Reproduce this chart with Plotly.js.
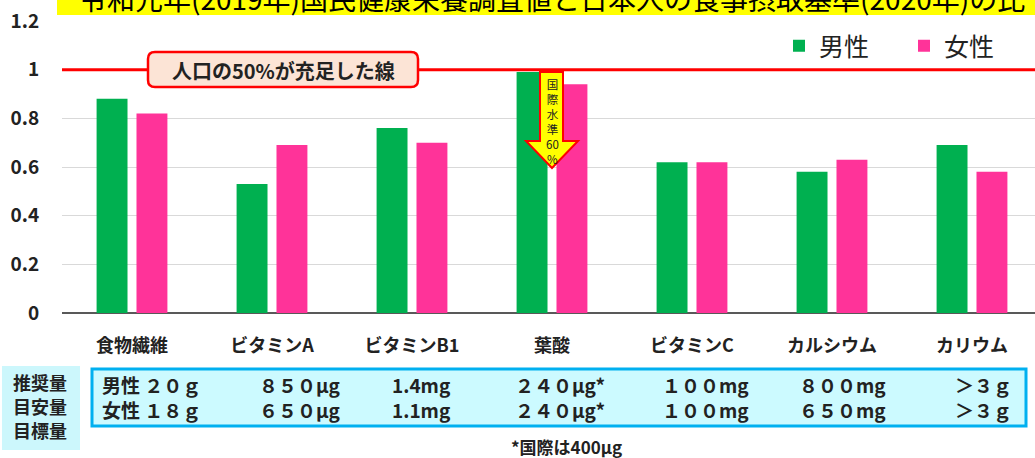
<!DOCTYPE html>
<html><head><meta charset="utf-8">
<script src="https://cdn.plot.ly/plotly-3.0.1.min.js"></script>
<style>html,body{margin:0;padding:0;background:#fff;}#chart{width:1035px;height:458px;}</style>
</head><body><div id="chart"></div>
<script>
const categories = ['食物繊維','ビタミンA','ビタミンB1','葉酸','ビタミンC','カルシウム','カリウム'];
const maleValues = [0.88, 0.53, 0.76, 0.99, 0.62, 0.58, 0.69];
const femaleValues = [0.82, 0.69, 0.70, 0.94, 0.62, 0.63, 0.58];
const yTicks = [0, 0.2, 0.4, 0.6, 0.8, 1, 1.2];
const maleIntake = ['男性 ２０ｇ','８５０μg','1.4mg','２４０μg*','１００mg','８００mg','＞３ｇ'];
const femaleIntake = ['女性 １８ｇ','６５０μg','1.1mg','２４０μg*','１００mg','６５０mg','＞３ｇ'];
const rowLabels = ['推奨量','目安量','目標量'];
const titleText = '令和元年(2019年)国民健康栄養調査値と日本人の食事摂取基準(2020年)の比';

const W = 1035, H = 458, L = 62, T = 21, B = 145;
const PW = W - L, PH = H - T - B;
const px = x => (x - L) / PW;
const py = y => (H - B - y) / PH;
const FONT = '"Noto Sans CJK JP", "Noto Sans", sans-serif';

function roundRect(x0, y0, x1, y1, r) {
  const X = v => px(v).toFixed(5), Y = v => py(v).toFixed(5);
  return `M${X(x0+r)},${Y(y0)} L${X(x1-r)},${Y(y0)} Q${X(x1)},${Y(y0)} ${X(x1)},${Y(y0+r)} L${X(x1)},${Y(y1-r)} Q${X(x1)},${Y(y1)} ${X(x1-r)},${Y(y1)} L${X(x0+r)},${Y(y1)} Q${X(x0)},${Y(y1)} ${X(x0)},${Y(y1-r)} L${X(x0)},${Y(y0+r)} Q${X(x0)},${Y(y0)} ${X(x0+r)},${Y(y0)} Z`;
}
function poly(pts) {
  return 'M' + pts.map(p => px(p[0]).toFixed(5) + ',' + py(p[1]).toFixed(5)).join(' L') + ' Z';
}

const traces = [
  {type:'bar', name:'男性', x:categories, y:maleValues, marker:{color:'#00B050'}},
  {type:'bar', name:'女性', x:categories, y:femaleValues, marker:{color:'#FF3399'}}
];

const shapes = [
  {type:'rect', xref:'paper', yref:'paper', x0:px(57), x1:px(1040), y0:py(15), y1:py(-10), fillcolor:'#FFFF00', line:{width:0}, layer:'below'},
  {type:'line', xref:'paper', yref:'y', x0:0, x1:1, y0:1, y1:1, line:{color:'#FF0000', width:3}},
  {type:'path', xref:'paper', yref:'paper', path:roundRect(148, 52, 418, 87, 7), fillcolor:'#FCE4D6', line:{color:'#FF0000', width:2.5}},
  {type:'path', xref:'paper', yref:'paper', path:poly([[540,72],[563,72],[563,141],[578,141],[552,168],[526,141],[540,141]]), fillcolor:'#FFFF00', line:{color:'#FF0000', width:2}},
  {type:'rect', xref:'paper', yref:'paper', x0:px(2), x1:px(80), y0:py(366), y1:py(450), fillcolor:'#CCF7FC', line:{width:0}},
  {type:'rect', xref:'paper', yref:'paper', x0:px(92), x1:px(1026), y0:py(369), y1:py(426), fillcolor:'#CCFAFF', line:{color:'#00B0F0', width:3}}
];

const annotations = [
  {xref:'paper', yref:'paper', x:px(552), y:py(-2), text:titleText, showarrow:false, xanchor:'center', yanchor:'middle', font:{family:FONT, size:28, color:'#000'}},
  {xref:'paper', yref:'paper', x:px(283), y:py(70), text:'<b>人口の50%が充足した線</b>', showarrow:false, xanchor:'center', yanchor:'middle', font:{family:FONT, size:20, color:'#222'}},
  {xref:'paper', yref:'paper', x:px(552), y:py(74), text:'国<br>際<br>水<br>準<br>60<br>%', showarrow:false, xanchor:'center', yanchor:'top', align:'center', font:{family:FONT, size:11.5, color:'#222'}},
  {xref:'paper', yref:'paper', x:px(566), y:py(446), text:'<b>*国際は400μg</b>', showarrow:false, xanchor:'center', yanchor:'middle', font:{family:FONT, size:17, color:'#222'}}
];
const rowY = [382, 406, 430];
rowLabels.forEach((t, i) => annotations.push({xref:'paper', yref:'paper', x:px(40), y:py(rowY[i]), text:'<b>'+t+'</b>', showarrow:false, xanchor:'center', yanchor:'middle', borderpad:0, font:{family:FONT, size:18, color:'#222'}}));
const colX = [100, 257, 390, 513, 660, 797, 953];
maleIntake.forEach((t, i) => annotations.push({xref:'paper', yref:'paper', x:px(colX[i]), y:py(384), text:'<b>'+t+'</b>', showarrow:false, xanchor:'left', yanchor:'middle', font:{family:FONT, size:19, color:'#222'}}));
femaleIntake.forEach((t, i) => annotations.push({xref:'paper', yref:'paper', x:px(colX[i]), y:py(409), text:'<b>'+t+'</b>', showarrow:false, xanchor:'left', yanchor:'middle', font:{family:FONT, size:19, color:'#222'}}));

const layout = {
  width:W, height:H,
  margin:{l:L, r:0, t:T, b:B, pad:0, autoexpand:false},
  paper_bgcolor:'#fff', plot_bgcolor:'#fff',
  barmode:'group', bargap:0.43, bargroupgap:0.225,
  showlegend:true,
  legend:{orientation:'h', x:px(779), y:py(46), xanchor:'left', yanchor:'middle', font:{family:FONT, size:25, color:'#222'}, entrywidth:80, itemwidth:30, tracegroupgap:0, bgcolor:'rgba(0,0,0,0)'},
  xaxis:{type:'category', range:[-0.5, 6.45], showgrid:false, zeroline:false, showline:false, automargin:false,
         ticks:'outside', ticklen:16, tickcolor:'rgba(0,0,0,0)',
         tickfont:{family:FONT, size:18, color:'#222', weight:'bold'}},
  yaxis:{range:[0, 1.2], tickvals:yTicks, ticktext:yTicks.map(String), showgrid:true, gridcolor:'#D9D9D9', gridwidth:1, automargin:false,
         zeroline:true, zerolinecolor:'#595959', zerolinewidth:2, showline:false,
         ticks:'outside', ticklen:18, tickcolor:'rgba(0,0,0,0)',
         tickfont:{family:FONT, size:19, color:'#222', weight:'bold'}},
  shapes:shapes, annotations:annotations
};
Plotly.newPlot('chart', traces, layout, {displayModeBar:false, staticPlot:true});
</script></body></html>
